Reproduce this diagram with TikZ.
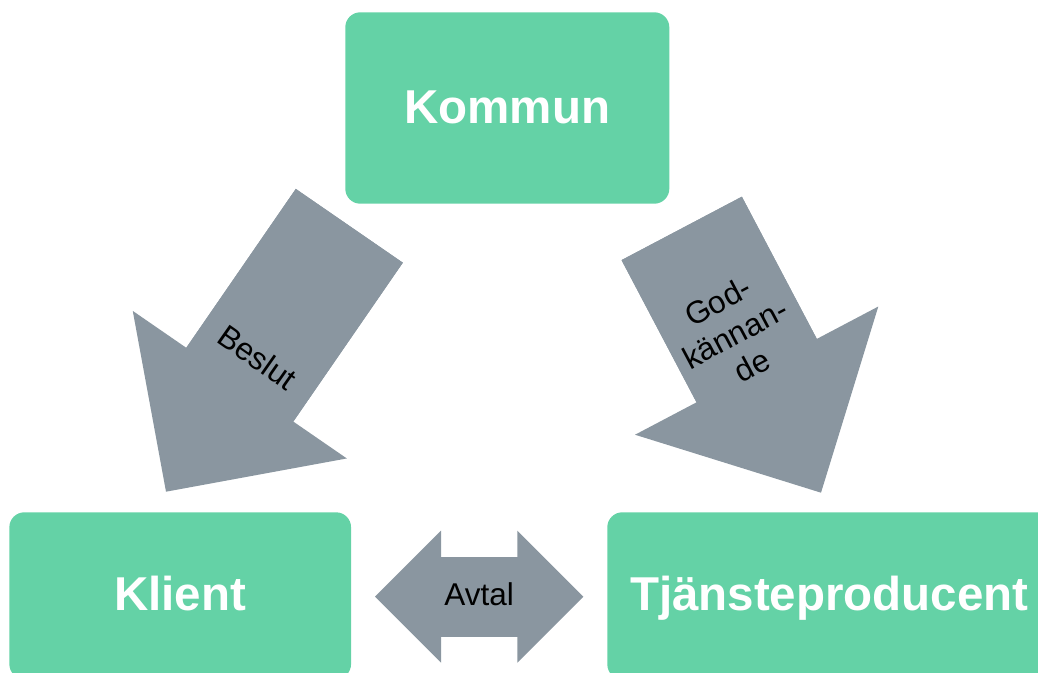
\documentclass[tikz,border=0pt]{standalone}
\usepackage{fontspec}
\setsansfont{Liberation Sans}
\usepackage{xcolor}
\usepackage{tikz}
\usetikzlibrary{arrows.meta,calc}
\definecolor{boxgreen}{RGB}{100,210,166}
\definecolor{arrowgray}{RGB}{138,150,160}

\begin{document}
\begin{tikzpicture}[x=1pt,y=-1pt,font=\sffamily,
  party/.style={fill=boxgreen,rounded corners=15pt,inner sep=0pt,text=white,
    font=\sffamily\bfseries\fontsize{47.5}{57}\selectfont,
    text height=34pt,text depth=4pt},
  arrowtext/.style={inner sep=0pt,align=center,
    font=\sffamily\fontsize{31.5}{36.5}\selectfont},
  block/.style={draw=arrowgray}]

    \useasboundingbox (0,0) rectangle (1038,672);
    \clip (0,0) rectangle (1038,672);

    \node[party,minimum width=324pt,minimum height=191.4pt](kommun) at (507.3,108) {Kommun};
    \node[party,minimum width=341.7pt,minimum height=166.8pt](klient) at (180.2,595.7) {Klient};
    \node[party,minimum width=444pt,minimum height=167pt](producent) at (829.3,595.8) {Tjänsteproducent};

    % ends of the block arrows
    \coordinate (beslutstart) at (349.3,225.8);
    \coordinate (beslutend) at (166,491.7);
    \coordinate (godstart) at (681.7,228.4);
    \coordinate (godend) at (821,492.7);
    \coordinate (avtalleft) at (375,596.7);
    \coordinate (avtalright) at (583.3,596.7);

    \draw[block,line width=130pt,-{Triangle[length=130pt,width=260pt,line width=0pt]}]
      (beslutstart) -- (beslutend);
    \draw[block,line width=136pt,-{Triangle[length=138pt,width=275pt,line width=0pt]}]
      (godstart) -- (godend);
    \draw[block,line width=80pt,
      {Triangle[length=66pt,width=132pt,line width=0pt]}-{Triangle[length=66pt,width=132pt,line width=0pt]}]
      (avtalleft) -- (avtalright);
    % shafts reach a little into the heads, so no seam shows
    \draw[block,line width=130pt] (beslutstart) -- ($(beslutend)!118pt!(beslutstart)$);
    \draw[block,line width=136pt] (godstart) -- ($(godend)!126pt!(godstart)$);
    \draw[block,line width=80pt] ($(avtalleft)!56pt!(avtalright)$) -- ($(avtalright)!56pt!(avtalleft)$);

    \node[arrowtext,rotate=-35](beslut) at (257.6,357.5) {Beslut};
    \node[arrowtext,rotate=28](god) at (735,333.5) {God-\\kännan-\\de};
    \node[arrowtext](avtal) at (479.2,594.3) {Avtal};
\end{tikzpicture}
\end{document}
